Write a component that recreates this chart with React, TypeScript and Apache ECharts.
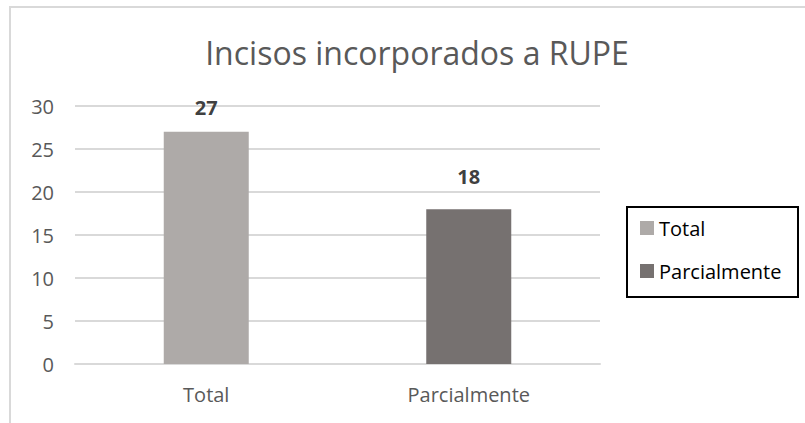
import React, { useEffect, useRef } from "react";
import * as echarts from "echarts";

const categories = ["Total", "Parcialmente"];
const values = [27, 18];
const barColors = ["#AEAAA8", "#767170"];
const labelDistances = [14, 23];
const yTicks = { min: 0, max: 30, interval: 5 };

export default function App() {
  const ref = useRef<HTMLDivElement>(null);
  useEffect(() => {
    if (!ref.current) return;
    const chart = echarts.init(ref.current, null, { renderer: "svg" });
    const font = "'Open Sans', 'Noto Sans', sans-serif";
    chart.setOption({
      animation: false,
      backgroundColor: "#ffffff",
      title: {
        text: "Incisos incorporados a RUPE",
        left: 412,
        textAlign: "center",
        top: 31,
        textStyle: { fontFamily: font, fontSize: 32, fontWeight: "normal", color: "#595959" },
      },
      grid: { left: 75, right: 205, top: 106, bottom: 59 },
      legend: {
        orient: "vertical",
        left: 635,
        top: 213,
        itemWidth: 14,
        itemHeight: 14,
        itemGap: 23,
        icon: "rect",
        textStyle: { fontFamily: font, fontSize: 20, color: "#000" },
        data: categories,
      },
      graphic: [
        { type: "rect", shape: { x: 10, y: 7, width: 820, height: 440 }, style: { fill: "none", stroke: "#d9d9d9", lineWidth: 2 }, silent: true },
        { type: "rect", shape: { x: 627, y: 207, width: 171, height: 90 }, style: { fill: "none", stroke: "#000", lineWidth: 2 }, silent: true },
      ],
      xAxis: {
        type: "category",
        data: categories,
        axisLine: { lineStyle: { color: "#d9d9d9", width: 2 } },
        axisTick: { show: false },
        axisLabel: { fontFamily: font, fontSize: 20, color: "#595959", margin: 20 },
      },
      yAxis: {
        type: "value",
        min: yTicks.min,
        max: yTicks.max,
        interval: yTicks.interval,
        axisLine: { show: false },
        axisTick: { show: false },
        splitLine: { lineStyle: { color: "#d9d9d9", width: 2 } },
        axisLabel: { fontFamily: font, fontSize: 20, color: "#595959", margin: 21 },
      },
      series: categories.map((c, i) => ({
        name: c,
        type: "bar",
        stack: "s",
        barWidth: 85,
        itemStyle: { color: barColors[i] },
        data: categories.map((_, j) => (j === i ? values[i] : null)),
        label: {
          show: true,
          position: "top",
          distance: labelDistances[i],
          fontFamily: font,
          fontSize: 20,
          fontWeight: "bold",
          color: "#404040",
        },
      })),
    });
    return () => chart.dispose();
  }, []);
  return <div ref={ref} style={{ position: "absolute", left: 0, top: 0, width: 805, height: 423 }} />;
}
